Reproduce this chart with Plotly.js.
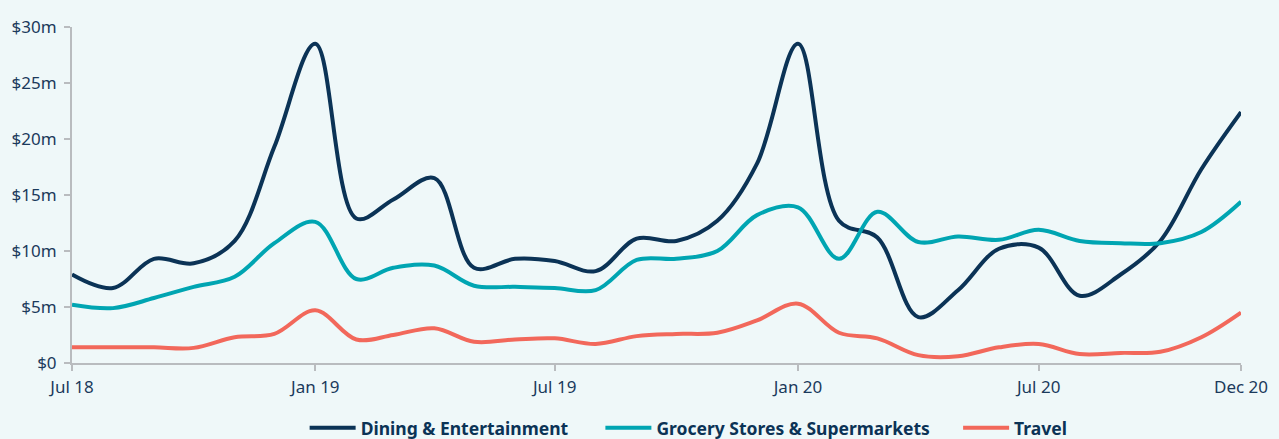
<!DOCTYPE html>
<html>
<head>
<meta charset="utf-8">
<script src="https://cdn.plot.ly/plotly-3.0.1.min.js"></script>
<style>
html,body{margin:0;padding:0;background:#eff8f9;}
#chart{width:1279px;height:439px;}
</style>
</head>
<body>
<div id="chart"></div>
<script>
const months = ['2018-07-01','2018-08-01','2018-09-01','2018-10-01','2018-11-01','2018-12-01',
  '2019-01-01','2019-02-01','2019-03-01','2019-04-01','2019-05-01','2019-06-01',
  '2019-07-01','2019-08-01','2019-09-01','2019-10-01','2019-11-01','2019-12-01',
  '2020-01-01','2020-02-01','2020-03-01','2020-04-01','2020-05-01','2020-06-01',
  '2020-07-01','2020-08-01','2020-09-01','2020-10-01','2020-11-01','2020-12-01'];
const dining = [7.9,6.7,9.3,8.9,10.9,19.3, 28.5,12.9,14.6,16.5,8.5,9.3, 9.1,8.2,11.1,10.9,12.7,17.8, 28.5,12.7,11.2,4.1,6.5,10.2, 10.3,6.0,7.9,10.9,17.3,22.4];
const grocery = [5.2,4.9,5.8,6.8,7.7,10.7, 12.6,7.5,8.5,8.7,6.9,6.8, 6.7,6.5,9.2,9.3,10.0,13.2, 13.9,9.3,13.5,10.8,11.3,11.0, 11.9,10.9,10.7,10.7,11.7,14.4];
const travel = [1.4,1.4,1.4,1.35,2.3,2.6, 4.7,2.1,2.5,3.1,1.9,2.1, 2.2,1.7,2.4,2.6,2.7,3.8, 5.3,2.7,2.2,0.7,0.6,1.4, 1.7,0.8,0.9,1.0,2.3,4.5];
const seriesNames = ['Dining & Entertainment','Grocery Stores & Supermarkets','Travel'];
const xTickVals = ['2018-07-01','2019-01-01','2019-07-01','2020-01-01','2020-07-01','2020-12-01'];
const xTickText = ['Jul 18','Jan 19','Jul 19','Jan 20','Jul 20','Dec 20'];
const yTickVals = [0,5,10,15,20,25,30];
const yTickText = ['$0','$5m','$10m','$15m','$20m','$25m','$30m'];

const colors = ['#0b3356','#00a5b2','#f2685b'];
const legendIds = ['legend','legend2','legend3'];
const data = [dining, grocery, travel].map((ys,i)=>({
  x: months, y: ys, name: seriesNames[i], type:'scatter', mode:'lines',
  legend: legendIds[i],
  line:{color:colors[i], width:4, shape:'spline', smoothing:1}
}));

const legendFont = {family:'Noto Sans, sans-serif', size:17.5, color:'#0b3356', weight:'bold'};
function leg(x){
  return {orientation:'h', x:x, xanchor:'left', y:-0.193, yanchor:'middle',
    font:legendFont, itemwidth:46, bgcolor:'rgba(0,0,0,0)'};
}
const layout = {
  width:1279, height:439,
  paper_bgcolor:'#eff8f9', plot_bgcolor:'#eff8f9',
  margin:{l:72, r:38, t:27, b:76, autoexpand:false},
  font:{family:'Noto Sans, sans-serif', color:'#1b3a5c', size:17},
  showlegend:true,
  legend: leg(0.199),
  legend2: leg(0.452),
  legend3: leg(0.758),
  xaxis:{type:'date', range:['2018-07-01','2020-12-01'], tickvals:xTickVals, ticktext:xTickText,
    showgrid:false, zeroline:false, showline:true, linecolor:'#b9bcbf', linewidth:2,
    ticks:'outside', ticklen:6, tickwidth:2, tickcolor:'#b9bcbf', ticklabelstandoff:2,
    tickfont:{size:17, color:'#1b3a5c'}, fixedrange:true},
  yaxis:{range:[0,30], tickvals:yTickVals, ticktext:yTickText,
    showgrid:false, zeroline:false, showline:true, linecolor:'#b9bcbf', linewidth:2,
    ticks:'outside', ticklen:6, tickwidth:2, tickcolor:'#b9bcbf', ticklabelstandoff:4,
    tickfont:{size:17, color:'#1b3a5c'}, fixedrange:true}
};
Plotly.newPlot('chart', data, layout, {displayModeBar:false, staticPlot:true});
</script>
</body>
</html>
